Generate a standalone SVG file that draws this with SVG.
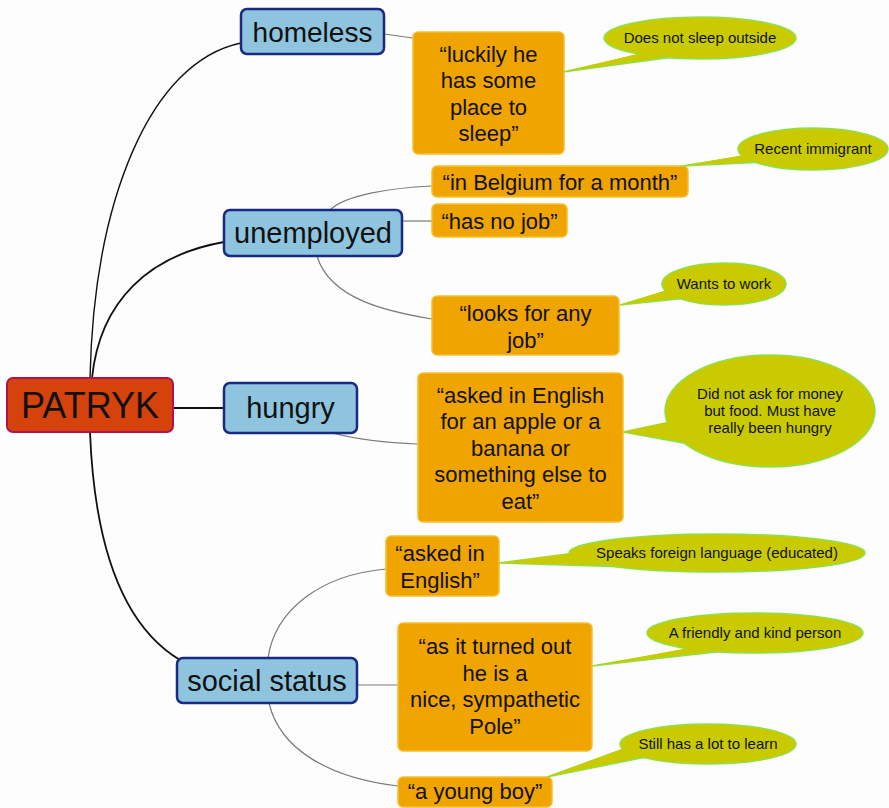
<svg xmlns="http://www.w3.org/2000/svg" width="889" height="808" viewBox="0 0 889 808">
<style>
text{font-family:"Liberation Sans",Arial,sans-serif;fill:#111;text-anchor:middle}
.main{fill:none;stroke:#111;stroke-width:1.8}
.thin{stroke-width:1.4}
.sub{fill:none;stroke:#7a7a7a;stroke-width:1.2}
.blue{fill:#8ec4de;stroke:#1a2a82;stroke-width:2.5}
.root{fill:#d5420c;stroke:#b0124e;stroke-width:2}
.or{fill:#f0a400;stroke:#f7bf2e;stroke-width:1.5}
.bub{fill:#c9cb00;stroke:#8ee04a;stroke-width:1.5}
.tailfill{fill:#c9cb00;stroke:none}
.bt{font-size:29px}
.ot{font-size:22px}
.gt{font-size:15px}
</style>
<rect width="889" height="808" fill="#fdfdfd"/>
<g id="connectors">
<path class="main thin" d="M90 378 C94 200 150 62 241 43"/>
<path class="main" d="M92 378 C100 300 150 255 224 242"/>
<path class="main" d="M173 408 L224 408"/>
<path class="main" d="M90 432 C95 560 130 630 180 660"/>
<path class="sub" d="M384 34 L413 38"/>
<path class="sub" d="M330 210 C345 195 390 188 432 186"/>
<path class="sub" d="M402 221 L432 221"/>
<path class="sub" d="M317 256 C330 300 390 312 432 319"/>
<path class="sub" d="M332 433 C360 440 390 443 418 444"/>
<path class="sub" d="M268 658 C275 610 320 575 386 569"/>
<path class="sub" d="M357 685 L398 685"/>
<path class="sub" d="M269 703 C280 750 330 778 398 786"/>
</g>
<g id="patryk"><rect class="root" x="7" y="378" width="166" height="54" rx="6"/><text x="90" y="418" style="font-size:36px">PATRYK</text></g>
<g id="homeless"><rect class="blue" x="241" y="9" width="143" height="45" rx="6"/><text class="bt" x="312.5" y="42" style="font-size:28px">homeless</text></g>
<g id="unemployed"><rect class="blue" x="224" y="210" width="178" height="46" rx="6"/><text class="bt" x="313" y="243">unemployed</text></g>
<g id="hungry"><rect class="blue" x="224" y="383" width="133" height="50" rx="6"/><text class="bt" x="290.5" y="418">hungry</text></g>
<g id="social-status"><rect class="blue" x="177" y="658" width="180" height="45" rx="6"/><text class="bt" x="267" y="691">social status</text></g>
<g id="q-luckily"><rect class="or" x="413" y="32" width="151" height="122" rx="5"/><text class="ot" x="488.5"><tspan x="488.5" y="61.5">“luckily he</tspan><tspan x="488.5" y="88">has some</tspan><tspan x="488.5" y="114.5">place to</tspan><tspan x="488.5" y="141">sleep”</tspan></text></g>
<g id="q-belgium"><rect class="or" x="432" y="166" width="256" height="31" rx="5"/><text class="ot" x="560" y="189.5">“in Belgium for a month”</text></g>
<g id="q-nojob"><rect class="or" x="432" y="204" width="135" height="33" rx="5"/><text class="ot" x="499.5" y="228.5">“has no job”</text></g>
<g id="q-looks"><rect class="or" x="432" y="296" width="187" height="59" rx="5"/><text class="ot"><tspan x="525.5" y="321">“looks for any</tspan><tspan x="525.5" y="347.5">job”</tspan></text></g>
<g id="q-apple"><rect class="or" x="418" y="373" width="205" height="149" rx="5"/><text class="ot"><tspan x="520.5" y="402.5">“asked in English</tspan><tspan x="520.5" y="429">for an apple or a</tspan><tspan x="520.5" y="455.5">banana or</tspan><tspan x="520.5" y="482">something else to</tspan><tspan x="520.5" y="508.5">eat”</tspan></text></g>
<g id="q-english"><rect class="or" x="386" y="536" width="113" height="60" rx="5"/><text class="ot"><tspan x="440" y="561">“asked in</tspan><tspan x="440" y="587.5">English”</tspan></text></g>
<g id="q-pole"><rect class="or" x="398" y="623" width="194" height="128" rx="5"/><text class="ot"><tspan x="495" y="654">“as it turned out</tspan><tspan x="495" y="680.5">he is a</tspan><tspan x="495" y="707">nice, sympathetic</tspan><tspan x="495" y="733.5">Pole”</tspan></text></g>
<g id="q-boy"><rect class="or" x="398" y="777" width="154" height="30" rx="5"/><text class="ot" x="475" y="799">“a young boy”</text></g>
<g id="c-outside"><polygon class="bub" points="640,54.4 668,57.8 563,72"/><ellipse class="bub" cx="700" cy="38" rx="96" ry="21"/><polygon class="tailfill" points="641,53 667,56 563,72"/><text class="gt" x="700" y="43">Does not sleep outside</text></g>
<g id="c-immigrant"><polygon class="bub" points="742.5,156.2 755.5,162.5 682,166"/><ellipse class="bub" cx="813" cy="149" rx="75" ry="21"/><polygon class="tailfill" points="744,155 755,161 682,166"/><text class="gt" x="813" y="154">Recent immigrant</text></g>
<g id="c-work"><polygon class="bub" points="665.7,291.2 680.2,298.8 620,305"/><ellipse class="bub" cx="724" cy="284" rx="62" ry="21"/><polygon class="tailfill" points="667,290 680,297.5 620,305"/><text class="gt" x="724" y="289">Wants to work</text></g>
<g id="c-food"><polygon class="bub" points="667.3,422.6 684,443.1 623,432"/><ellipse class="bub" cx="770" cy="411" rx="105" ry="56"/><polygon class="tailfill" points="669,422 685,441.5 623,432"/><text class="gt"><tspan x="770" y="399">Did not ask for money</tspan><tspan x="770" y="416">but food. Must have</tspan><tspan x="770" y="433">really been hungry</tspan></text></g>
<g id="c-language"><polygon class="bub" points="569.1,553.7 612.3,566.4 499,563"/><ellipse class="bub" cx="717" cy="553" rx="148" ry="19"/><polygon class="tailfill" points="571,553.5 612,565 499,563"/><text class="gt" x="717" y="558">Speaks foreign language (educated)</text></g>
<g id="c-friendly"><polygon class="bub" points="690,649 718,651.8 592,666"/><ellipse class="bub" cx="755" cy="633" rx="108" ry="20"/><polygon class="tailfill" points="691,647.5 718,650.3 592,666"/><text class="gt" x="755" y="638">A friendly and kind person</text></g>
<g id="c-learn"><polygon class="bub" points="623,749.2 643.6,757.6 547,777"/><ellipse class="bub" cx="708" cy="744" rx="88" ry="20"/><polygon class="tailfill" points="624.5,748 644,756 547,777"/><text class="gt" x="708" y="749">Still has a lot to learn</text></g>
</svg>
